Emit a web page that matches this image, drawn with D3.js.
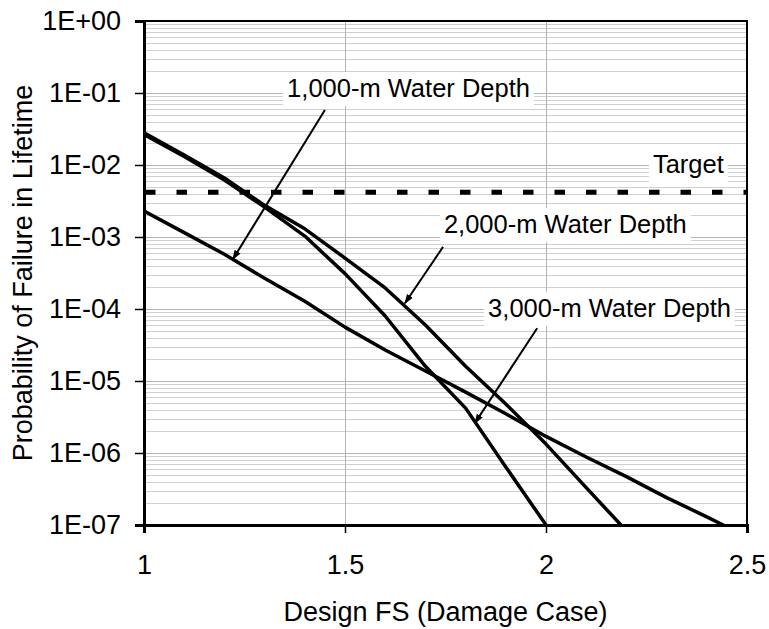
<!DOCTYPE html>
<html>
<head>
<meta charset="utf-8">
<script src="https://cdnjs.cloudflare.com/ajax/libs/d3/7.8.5/d3.min.js"></script>
<style>
  body { margin: 0; background: #fff; }
  text { font-family: Arial, "Liberation Sans", sans-serif; fill: #000; }
</style>
</head>
<body>
<div id="chart"></div>
<script>
// data
var fsValues = [1.0, 1.1, 1.2, 1.3, 1.4, 1.5, 1.6, 1.7, 1.8, 1.9, 2.0, 2.1, 2.2, 2.3, 2.4, 2.5];
var depth1000 = [2.3e-3, 1.15e-3, 5.75e-4, 2.67e-4, 1.28e-4, 5.6e-5, 2.7e-5, 1.38e-5, 7.0e-6, 3.5e-6, 1.7e-6, 8.8e-7, 4.7e-7, 2.4e-7, 1.3e-7, 6.8e-8];
var depth2000 = [2.8e-2, 1.38e-2, 6.6e-3, 2.75e-3, 1.3e-3, 5.1e-4, 1.96e-4, 6.0e-5, 1.6e-5, 4.8e-6, 1.33e-6, 3.3e-7, 8.3e-8];
var depth3000 = [2.65e-2, 1.31e-2, 6.2e-3, 2.6e-3, 1.03e-3, 3.1e-4, 8.0e-5, 1.6e-5, 4.2e-6, 6.4e-7, 1.0e-7];
var targetValue = 4.2e-3;

var xTicks = [1, 1.5, 2, 2.5];
var yTicks = [1, 1e-1, 1e-2, 1e-3, 1e-4, 1e-5, 1e-6, 1e-7];
var yTickLabels = ["1E+00", "1E-01", "1E-02", "1E-03", "1E-04", "1E-05", "1E-06", "1E-07"];

// annotations: label anchor + arrow from/to, all in data units
var labelText = ["1,000-m Water Depth", "2,000-m Water Depth", "3,000-m Water Depth", "Target"];
var labelAt = [[1.356, 8.8e-2], [1.746, 1.14e-3], [1.856, 7.7e-5], [2.266, 7.7e-3]];
var arrowFrom = [[1.450, 5.8e-2], [1.744, 7.3e-4], [1.978, 5.4e-5], null];
var arrowTo = [[1.221, 4.9e-4], [1.649, 1.2e-4], [1.823, 2.6e-6], null];

var svgWidth = 769;
var svgHeight = 629;
var margin = { top: 21, right: 22, bottom: 104, left: 144 };
var width = svgWidth - margin.left - margin.right;
var height = svgHeight - margin.top - margin.bottom;

var svg = d3.select("#chart")
    .append("svg")
    .attr("width", svgWidth)
    .attr("height", svgHeight);

var chart = svg.append("g")
    .attr("transform", `translate(${margin.left}, ${margin.top})`);

var xscale = d3.scaleLinear().domain([1, 2.5]).range([0, width]);
var yscale = d3.scaleLog().domain([1e-7, 1]).range([height, 0]);

// gridlines: minor first, then major
var minor = [];
for (var e = -7; e < 0; e++) {
    for (var m = 2; m <= 9; m++) minor.push(m * Math.pow(10, e));
}
chart.append("g").selectAll("line")
    .data(minor)
    .enter().append("line")
    .attr("x1", 0).attr("x2", width)
    .attr("y1", d => Math.round(yscale(d)) + 0.5)
    .attr("y2", d => Math.round(yscale(d)) + 0.5)
    .attr("stroke", "#d0d0d0")
    .attr("stroke-width", 1);

chart.append("g").selectAll("line")
    .data(yTicks)
    .enter().append("line")
    .attr("x1", 0).attr("x2", width)
    .attr("y1", d => Math.round(yscale(d)) + 0.5)
    .attr("y2", d => Math.round(yscale(d)) + 0.5)
    .attr("stroke", "#b4b4b4")
    .attr("stroke-width", 1);

chart.append("g").selectAll("line")
    .data(xTicks.slice(1, 3))
    .enter().append("line")
    .attr("x1", d => Math.round(xscale(d)) + 0.5)
    .attr("x2", d => Math.round(xscale(d)) + 0.5)
    .attr("y1", 0).attr("y2", height)
    .attr("stroke", "#b4b4b4")
    .attr("stroke-width", 1);

// label boxes (white, drawn over gridlines)
var labels = chart.append("g");
labelText.forEach(function (t, i) {
    var g = labels.append("g");
    var txt = g.append("text")
        .attr("x", xscale(labelAt[i][0]))
        .attr("y", yscale(labelAt[i][1]))
        .style("font-size", "25.5px")
        .text(t);
    var bb = txt.node().getBBox();
    g.insert("rect", "text")
        .attr("x", bb.x - 4)
        .attr("y", bb.y - 2)
        .attr("width", bb.width + 8)
        .attr("height", bb.height + 6)
        .attr("fill", "#fff");
});

// target line
svg.append("clipPath").attr("id", "plotclip")
    .append("rect").attr("width", width).attr("height", height);

chart.append("line")
    .attr("x1", 1).attr("x2", width)
    .attr("y1", yscale(targetValue)).attr("y2", yscale(targetValue))
    .attr("stroke", "#000")
    .attr("stroke-width", 5)
    .attr("stroke-dasharray", "10.5,21")
    .attr("clip-path", "url(#plotclip)");

// curves
var line = d3.line()
    .x(d => xscale(d[0]))
    .y(d => yscale(d[1]));

[depth1000, depth2000, depth3000].forEach(function (s) {
    chart.append("path")
        .datum(s.map((v, i) => [fsValues[i], v]))
        .attr("d", line)
        .attr("fill", "none")
        .attr("stroke", "#000")
        .attr("stroke-width", 3.5)
        .attr("stroke-linejoin", "round")
        .attr("clip-path", "url(#plotclip)");
});

// arrows
svg.append("defs").append("marker")
    .attr("id", "head")
    .attr("viewBox", "0 0 10 10")
    .attr("refX", 9).attr("refY", 5)
    .attr("markerWidth", 5).attr("markerHeight", 5)
    .attr("markerUnits", "strokeWidth")
    .attr("orient", "auto")
    .append("path")
    .attr("d", "M0,1.5 L10,5 L0,8.5 Z")
    .attr("fill", "#000");

arrowFrom.forEach(function (a, i) {
    if (!a) return;
    chart.append("line")
        .attr("x1", xscale(a[0])).attr("y1", yscale(a[1]))
        .attr("x2", xscale(arrowTo[i][0])).attr("y2", yscale(arrowTo[i][1]))
        .attr("stroke", "#000")
        .attr("stroke-width", 2)
        .attr("marker-end", "url(#head)");
});

// frame
chart.append("rect")
    .attr("width", width).attr("height", height)
    .attr("fill", "none")
    .attr("stroke", "#000")
    .attr("stroke-width", 2);

// axes
var xAxis = d3.axisBottom(xscale)
    .tickValues(xTicks)
    .tickSize(8)
    .tickPadding(22)
    .tickFormat(d3.format("~g"));
var yAxis = d3.axisLeft(yscale)
    .tickValues(yTicks)
    .tickSize(9)
    .tickPadding(14)
    .tickFormat((d, i) => yTickLabels[i]);

var gx = chart.append("g")
    .attr("transform", `translate(0, ${height})`)
    .call(xAxis);
var gy = chart.append("g").call(yAxis);

[gx, gy].forEach(function (g) {
    g.select(".domain").attr("stroke", "#000").attr("stroke-width", 3);
    g.selectAll(".tick line").attr("stroke", "#000").attr("stroke-width", 1.5);
    g.selectAll(".tick text")
        .style("font-family", "Arial, 'Liberation Sans', sans-serif")
        .style("font-size", "27px")
        .attr("fill", "#000");
});

// axis titles
svg.append("text")
    .attr("x", margin.left + width / 2)
    .attr("y", 621)
    .attr("text-anchor", "middle")
    .style("font-size", "27px")
    .text("Design FS (Damage Case)");

svg.append("text")
    .attr("transform", `translate(32, ${margin.top + height / 2}) rotate(-90)`)
    .attr("text-anchor", "middle")
    .style("font-size", "27px")
    .text("Probability of Failure in Lifetime");
</script>
</body>
</html>
